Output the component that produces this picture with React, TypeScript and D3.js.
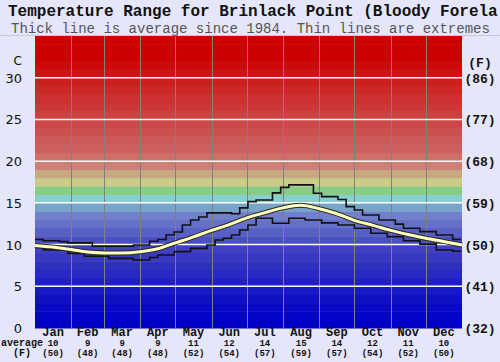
import React, { useRef, useEffect } from 'react';
import * as d3 from 'd3';

// Months and their lengths (x axis is day of year)
const months = ['Jan', 'Feb', 'Mar', 'Apr', 'May', 'Jun', 'Jul', 'Aug', 'Sep', 'Oct', 'Nov', 'Dec'];
const monthDays = [31, 28, 31, 30, 31, 30, 31, 31, 30, 31, 30, 31];
const monthAvgC = [10, 9, 9, 9, 11, 12, 14, 15, 14, 12, 11, 10];
const monthAvgF = [50, 48, 48, 48, 52, 54, 57, 59, 57, 54, 52, 50];

// Celsius ticks and their Fahrenheit labels
const cTicks = [0, 5, 10, 15, 20, 25, 30];
const fTicks = [32, 41, 50, 59, 68, 77, 86];

// Average line, sampled twice a month
const avgDays = [0, 15, 31, 45, 59, 74, 90, 105, 120, 135, 151, 166, 181, 196, 212, 227, 243, 258, 273, 289, 304, 319, 334, 350, 365];
const avgTemp = [9.9, 9.7, 9.4, 9.1, 9.0, 9.0, 9.15, 9.5, 10.2, 10.9, 11.7, 12.4, 13.2, 13.8, 14.4, 14.7, 14.3, 13.7, 12.9, 12.3, 11.7, 11.2, 10.75, 10.35, 9.95];

// Weekly extremes
const maxTemp = [10.6, 10.45, 10.45, 10.35, 10.2, 10.2, 10.2, 9.8, 9.8, 9.8, 9.8, 9.8, 9.95, 9.95, 10.4, 10.6,
    11.15, 11.5, 12.35, 12.95, 13.3, 13.8, 13.8, 13.8, 13.7, 14.4, 15.15, 15.35, 15.35, 16.2, 16.85, 17.15,
    17.15, 17.15, 16.15, 15.75, 15.75, 15.4, 14.55, 14.15, 13.55, 13.55, 12.95, 12.95, 12.45, 11.95, 11.95, 11.55,
    11.55, 11.15, 11.15, 10.6];
const minTemp = [9.65, 9.35, 9.35, 9.35, 8.95, 8.95, 8.6, 8.6, 8.6, 8.35, 8.35, 8.35, 8.15, 8.15, 8.45, 8.75,
    8.75, 9.15, 9.15, 9.55, 9.55, 9.95, 10.55, 10.75, 11.15, 11.75, 12.35, 13.15, 13.15, 12.55, 12.55, 13.15,
    13.15, 12.95, 12.95, 12.6, 12.6, 12.35, 12.35, 11.95, 11.95, 11.35, 11.35, 10.95, 10.95, 10.45, 10.45, 10.05,
    10.05, 9.35, 9.35, 9.2];

// Colour of each 1 degree band, from 0 upwards
const bandColors = [
    '#0000c8', '#0505c8', '#0a0ac6', '#1010c4', '#1818c4', '#2020c2', '#2828c2', '#3030c0', '#3838c0', '#4040c0',
    '#4a50c2', '#5860c6', '#6670c8', '#7080cc', '#78a4c8', '#88d0d0', '#88cc88', '#c8cc88', '#c8a880', '#cc8078',
    '#cc7068', '#cc6060', '#cc5858', '#cc5050', '#cc4848', '#cc4040', '#cc3838', '#cc3030', '#cc2828', '#cc2020',
    '#cc1414', '#cc0a0a', '#cc0000', '#cc0000', '#cc0000'];

export default function App() {
    const svgRef = useRef<SVGSVGElement>(null);
    const width = 500;
    const height = 362;
    const margin = { top: 36, right: 38, bottom: 34, left: 35 };

    useEffect(() => {
        const svg = d3.select(svgRef.current);
        svg.selectAll('*').remove();

        const x = d3.scaleLinear().domain([0, 365]).range([margin.left, width - margin.right]);
        const y = d3.scaleLinear().domain([0, 35]).range([height - margin.bottom, margin.top]);

        const mono = 'Liberation Mono, Courier New, monospace';

        svg.append('rect').attr('width', width).attr('height', height).attr('fill', '#e6e6fa');
        svg.append('line')
            .attr('x1', 0).attr('x2', width).attr('y1', 35.5).attr('y2', 35.5)
            .attr('stroke', '#c8c8d8');

        // Title (runs off the right edge, as in the original)
        svg.append('text')
            .attr('x', 8).attr('y', 16)
            .attr('font-family', mono).attr('font-weight', 'bold').attr('font-size', 16)
            .attr('fill', '#111')
            .text('Temperature Range for Brinlack Point (Bloody Forela');
        svg.append('text')
            .attr('x', 11).attr('y', 32.5)
            .attr('font-family', mono).attr('font-size', 14)
            .attr('fill', '#555')
            .text('Thick line is average since 1984. Thin lines are extremes');

        // Colour bands
        svg.append('g')
            .selectAll('rect')
            .data(bandColors)
            .join('rect')
            .attr('x', margin.left)
            .attr('width', width - margin.right - margin.left)
            .attr('y', (_, i) => y(i + 1))
            .attr('height', (_, i) => y(i) - y(i + 1) + 0.5)
            .attr('fill', d => d);

        // Month boundaries
        const monthStarts = d3.cumsum([0, ...monthDays.slice(0, 11)]);
        svg.append('g')
            .selectAll('line')
            .data(Array.from(monthStarts).slice(1))
            .join('line')
            .attr('x1', d => Math.round(x(d)) + 0.5)
            .attr('x2', d => Math.round(x(d)) + 0.5)
            .attr('y1', y(35))
            .attr('y2', y(0))
            .attr('stroke', '#808080')
            .attr('stroke-width', 1);

        // Horizontal white gridlines
        svg.append('g')
            .selectAll('line')
            .data(cTicks.slice(1))
            .join('line')
            .attr('x1', margin.left)
            .attr('x2', width - margin.right)
            .attr('y1', d => y(d))
            .attr('y2', d => y(d))
            .attr('stroke', '#ffffff')
            .attr('stroke-width', 1.5);

        // Extremes: weekly steps
        const stepLine = d3.line<number>()
            .x((_, i) => x(Math.min(i * 7, 365)))
            .y(d => y(d))
            .curve(d3.curveStepAfter);
        [maxTemp, minTemp].forEach(series => {
            svg.append('path')
                .datum([...series, series[series.length - 1]])
                .attr('fill', 'none')
                .attr('stroke', '#111')
                .attr('stroke-width', 1.6)
                .attr('d', stepLine);
        });

        // Average line
        const avgLine = d3.line<number>()
            .x((_, i) => x(avgDays[i]))
            .y(d => y(d))
            .curve(d3.curveMonotoneX);
        svg.append('path')
            .datum(avgTemp)
            .attr('fill', 'none')
            .attr('stroke', '#2a2a20')
            .attr('stroke-width', 5)
            .attr('d', avgLine);
        svg.append('path')
            .datum(avgTemp)
            .attr('fill', 'none')
            .attr('stroke', '#ffffc0')
            .attr('stroke-width', 3)
            .attr('d', avgLine);

        // Left axis (C)
        svg.append('text')
            .attr('x', 22).attr('y', 65)
            .attr('text-anchor', 'end')
            .attr('font-family', 'DejaVu Sans, sans-serif').attr('font-size', 12)
            .attr('fill', '#111')
            .text('C');
        svg.append('g')
            .selectAll('text')
            .data(cTicks)
            .join('text')
            .attr('x', 22)
            .attr('y', d => y(d) + 5)
            .attr('text-anchor', 'end')
            .attr('font-family', 'DejaVu Sans, sans-serif')
            .attr('font-size', 13)
            .attr('fill', '#111')
            .text(d => d);

        // Right axis (F)
        svg.append('text')
            .attr('x', 480).attr('y', 67)
            .attr('text-anchor', 'middle')
            .attr('font-family', mono).attr('font-weight', 'bold').attr('font-size', 13)
            .attr('fill', '#111')
            .text('(F)');
        svg.append('g')
            .selectAll('text')
            .data(fTicks)
            .join('text')
            .attr('x', 480)
            .attr('y', (_, i) => y(cTicks[i]) + 5)
            .attr('text-anchor', 'middle')
            .attr('font-family', mono)
            .attr('font-weight', 'bold')
            .attr('font-size', 13)
            .attr('fill', '#111')
            .text(d => `(${d})`);

        // Month labels and monthly averages
        const mid = months.map((_, i) => x(monthStarts[i] + monthDays[i] / 2));
        const bottom = svg.append('g')
            .attr('font-family', mono)
            .attr('font-weight', 'bold')
            .attr('fill', '#111')
            .attr('text-anchor', 'middle');
        bottom.selectAll('text.m')
            .data(months)
            .join('text')
            .attr('class', 'm')
            .attr('x', (_, i) => mid[i])
            .attr('y', 336)
            .attr('font-size', 12)
            .text(d => d);
        bottom.selectAll('text.c')
            .data(monthAvgC)
            .join('text')
            .attr('class', 'c')
            .attr('x', (_, i) => mid[i])
            .attr('y', 346)
            .attr('font-size', 9)
            .text(d => d);
        bottom.selectAll('text.f')
            .data(monthAvgF)
            .join('text')
            .attr('class', 'f')
            .attr('x', (_, i) => mid[i])
            .attr('y', 356)
            .attr('font-size', 9)
            .text(d => `(${d})`);
        bottom.append('text')
            .attr('x', 22).attr('y', 346)
            .attr('font-size', 10)
            .text('average');
        bottom.append('text')
            .attr('x', 22).attr('y', 356)
            .attr('font-size', 10)
            .text('(F)');
    }, []);

    return <svg ref={svgRef} width={width} height={height} style={{ position: 'absolute', left: 0, top: 0 }} />;
}
